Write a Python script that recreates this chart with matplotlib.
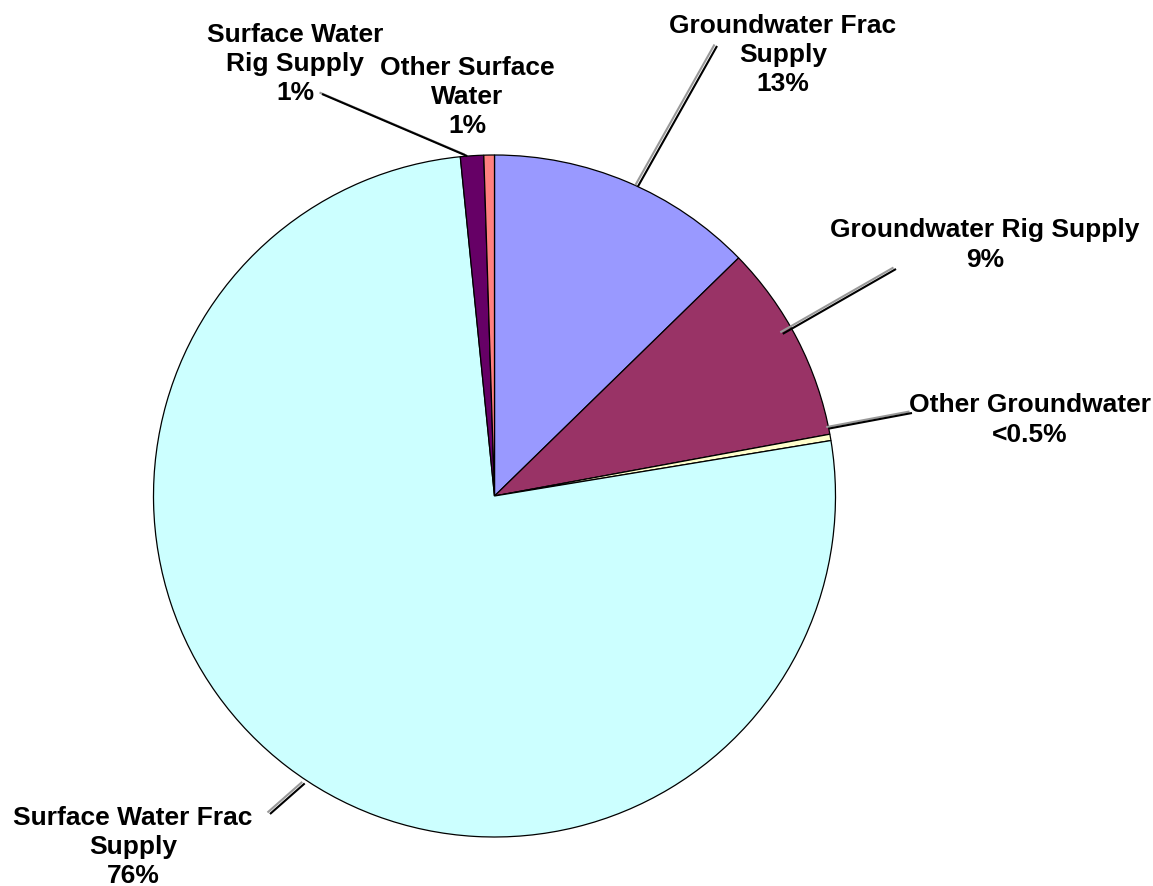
import numpy as np
import matplotlib.pyplot as plt

# Datos del gráfico (porcentajes)
categorias = ["Groundwater Frac Supply", "Groundwater Rig Supply", "Other Groundwater",
              "Surface Water Frac Supply", "Surface Water Rig Supply", "Other Surface Water"]
valores = [12.7, 9.4, 0.3, 76.0, 1.1, 0.5]
etiquetas = ["Groundwater Frac\nSupply\n13%", "Groundwater Rig Supply\n9%",
             "Other Groundwater\n<0.5%", "Surface Water Frac\nSupply\n76%",
             "Surface Water\nRig Supply\n1%", "Other Surface\nWater\n1%"]
colores = ["#9999FF", "#993366", "#FFFFCC", "#CCFFFF", "#660066", "#FF8080"]

W, H = 1153, 887

def main():
    fig = plt.figure(figsize=(W / 100, H / 100), dpi=100)
    ax = fig.add_axes([0, 0, 1, 1])

    cx, cy, r = 494.5, H - 497, 341
    wedges, _ = ax.pie(valores, colors=colores, startangle=90, counterclock=False,
                       center=(cx, cy), radius=r, frame=True,
                       wedgeprops=dict(edgecolor='black', linewidth=0.9))
    ax.set_xlim(0, W)
    ax.set_ylim(0, H)
    ax.set_aspect('equal')
    ax.axis('off')

    # posiciones de las etiquetas (centro del texto) y extremo de la línea guía
    pos_texto = [(783, 55), (985, 245), (1030, 420), (133, 847), (295, 64), (467, 97)]
    fin_linea = [(717, 47), (896, 270), (912, 414), (270, 815), (322, 95), None]
    # ajuste del punto de anclaje sobre el borde (grados, factor de radio)
    ajuste = [(-2.0, 1.0), (2.0, 0.97), (1.5, 1.0), (4.0, 1.01), (0.8, 1.0), (0, 1.0)]

    for w, txt, (tx, ty), fin, (da, fr) in zip(wedges, etiquetas, pos_texto, fin_linea, ajuste):
        ax.text(tx, H - ty, txt, ha='center', va='center', fontsize=19,
                fontweight='bold', family='Liberation Sans', linespacing=1.28)
        if fin is None:
            continue
        ang = np.deg2rad((w.theta1 + w.theta2) / 2 + da)
        x0 = cx + fr * r * np.cos(ang)
        y0 = cy + fr * r * np.sin(ang)
        x1, y1 = fin[0], H - fin[1]
        # sombra gris y línea negra
        ax.plot([x0 - 2.5, x1 - 2.5], [y0 + 1.5, y1 + 1.5], color='#999999', lw=1.5,
                solid_capstyle='butt')
        ax.plot([x0, x1], [y0, y1], color='black', lw=1.5, solid_capstyle='butt')

    fig.savefig('out.png', dpi=100)

if __name__ == "__main__":
    main()
